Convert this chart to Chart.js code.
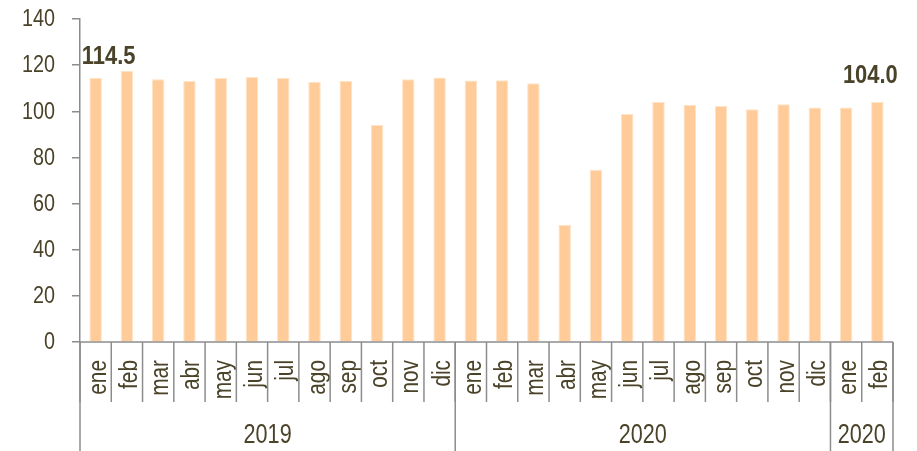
<!DOCTYPE html>
<html>
<head>
<meta charset="utf-8">
<script src="https://cdn.jsdelivr.net/npm/chart.js@4"></script>
<style>
  html, body { margin: 0; padding: 0; background: #fff; }
</style>
</head>
<body>
<canvas id="chart" width="917" height="451"></canvas>
<script>
// data
const months = ['ene', 'feb', 'mar', 'abr', 'may', 'jun', 'jul', 'ago', 'sep', 'oct', 'nov', 'dic',
                'ene', 'feb', 'mar', 'abr', 'may', 'jun', 'jul', 'ago', 'sep', 'oct', 'nov', 'dic',
                'ene', 'feb'];
const values = [114.5, 117.6, 113.9, 113.1, 114.4, 114.9, 114.4, 112.8, 113.1, 94.1, 113.9, 114.6,
                113.3, 113.4, 112.1, 50.8, 74.7, 98.8, 104.0, 102.7, 102.3, 100.9, 103.0, 101.6,
                101.6, 104.0];
const years = ['2019', '2020', '2020'];
const yearSpans = [12, 12, 2];
const labelled = [0, 25];
const yTicks = [0, 20, 40, 60, 80, 100, 120, 140];

const FONT = '"Liberation Sans", Arial, sans-serif';
const TEXT = '#4a4329';
const LINE = '#8c8c8c';

// narrow text: the original uses a condensed face, so squeeze a normal one
function narrowText(ctx, str, x, y, size, opts = {}) {
    ctx.save();
    ctx.translate(x, y);
    if (opts.rotate) ctx.rotate(opts.rotate);
    ctx.scale(opts.squeeze || 0.86, 1);
    ctx.font = (opts.bold ? 'bold ' : '') + size + 'px ' + FONT;
    ctx.fillStyle = TEXT;
    ctx.textAlign = opts.align || 'center';
    ctx.textBaseline = opts.baseline || 'middle';
    ctx.fillText(str, 0, opts.dy || 0);
    ctx.restore();
}

// y tick labels, month labels, separators, year labels
const axisText = {
    id: 'axisText',
    afterDraw(chart) {
        const ctx = chart.ctx;
        const x = chart.scales.x;
        const y = chart.scales.y;
        const area = chart.chartArea;
        const top = area.bottom;
        const step = x.getPixelForValue(1) - x.getPixelForValue(0);
        const edge = i => x.getPixelForValue(i) - step / 2;

        yTicks.forEach(v => {
            narrowText(ctx, String(v), area.left - 25, y.getPixelForValue(v) + 1, 23, { align: 'right' });
        });

        months.forEach((m, i) => {
            narrowText(ctx, m, x.getPixelForValue(i), top + 18, 26, {
                rotate: -Math.PI / 2, squeeze: 0.8, align: 'right', baseline: 'alphabetic', dy: 10
            });
        });

        ctx.save();
        ctx.strokeStyle = LINE;
        ctx.lineWidth = 1.5;
        for (let i = 0; i <= months.length; i++) {
            ctx.beginPath();
            ctx.moveTo(edge(i), top);
            ctx.lineTo(edge(i), top + 60);
            ctx.stroke();
        }
        const bounds = [0];
        yearSpans.forEach(n => bounds.push(bounds[bounds.length - 1] + n));
        bounds.forEach(b => {
            ctx.beginPath();
            ctx.moveTo(edge(b), top);
            ctx.lineTo(edge(b), chart.height);
            ctx.stroke();
        });
        ctx.beginPath();
        ctx.moveTo(area.left, top);
        ctx.lineTo(edge(months.length), top);
        ctx.stroke();
        ctx.restore();

        years.forEach((yr, k) => {
            const cx = (edge(bounds[k]) + edge(bounds[k + 1])) / 2;
            narrowText(ctx, yr, cx, top + 94, 27, { squeeze: 0.8 });
        });
    }
};

// bold value labels for first and last bar
const valueLabels = {
    id: 'valueLabels',
    afterDatasetsDraw(chart) {
        const meta = chart.getDatasetMeta(0);
        const dx = [13, -7];
        const dy = [21, 26];
        labelled.forEach((i, k) => {
            const bar = meta.data[i];
            narrowText(chart.ctx, values[i].toFixed(1), bar.x + dx[k], bar.y - dy[k], 25.5, { bold: true });
        });
    }
};

new Chart(document.getElementById('chart'), {
    type: 'bar',
    data: {
        labels: months,
        datasets: [{
            data: values,
            backgroundColor: '#ffcc99',
            borderColor: '#ffe3c6',
            borderWidth: 1,
            barPercentage: 0.8,
            categoryPercentage: 0.5
        }]
    },
    options: {
        responsive: false,
        animation: false,
        devicePixelRatio: 1,
        layout: { padding: { top: 19, right: 24, left: 0, bottom: 0 } },
        plugins: { legend: { display: false }, tooltip: { enabled: false } },
        scales: {
            x: {
                grid: { display: false },
                border: { display: false },
                ticks: { display: false },
                afterFit: s => { s.height = 109; }
            },
            y: {
                min: 0,
                max: 140,
                afterBuildTicks: s => { s.ticks = yTicks.map(v => ({ value: v })); },
                grid: { drawOnChartArea: false, color: LINE, lineWidth: 1.5, tickLength: 8 },
                border: { color: LINE, width: 1.5 },
                ticks: { display: false },
                afterFit: s => { s.width = 80; }
            }
        }
    },
    plugins: [axisText, valueLabels]
});
</script>
</body>
</html>
